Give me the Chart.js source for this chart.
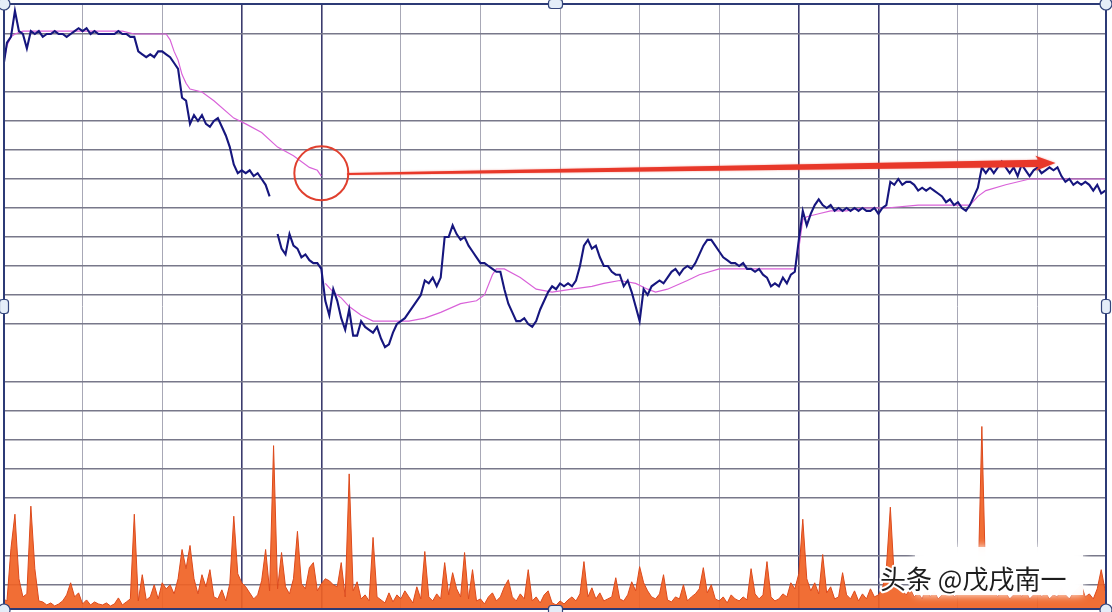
<!DOCTYPE html>
<html><head><meta charset="utf-8">
<script src="https://cdn.jsdelivr.net/npm/chart.js@4.4.1/dist/chart.umd.min.js"></script>
<style>html,body{margin:0;padding:0;background:#fff;overflow:hidden}#wrap{width:1112px;height:612px;position:relative}</style>
</head><body><div id="wrap"><canvas id="c" width="1112" height="612"></canvas></div>
<script>
// ---- data ----
// intraday price, one reading per minute slot (null = break in the line)
const price = [
10.48,10.57,10.59,10.68,10.61,10.60,10.55,10.61,10.60,10.61,
10.59,10.60,10.60,10.61,10.60,10.60,10.59,10.60,10.61,10.62,
10.61,10.62,10.60,10.61,10.60,10.60,10.60,10.60,10.60,10.61,
10.60,10.60,10.59,10.59,10.54,10.53,10.52,10.53,10.52,10.54,
10.54,10.53,10.52,10.50,10.48,10.38,10.37,10.29,10.32,10.30,
10.32,10.29,10.28,10.30,10.31,10.28,10.25,10.21,10.15,10.12,
10.13,10.12,10.13,10.11,10.12,10.10,10.08,10.04,null,9.91,
9.86,9.84,9.91,9.87,9.86,9.83,9.84,9.82,9.81,9.81,
9.79,9.68,9.63,9.72,9.68,9.62,9.58,9.65,9.56,9.56,
9.61,9.59,9.58,9.57,9.59,9.55,9.52,9.53,9.57,9.60,
9.61,9.62,9.64,9.66,9.68,9.70,9.75,9.74,9.76,9.73,
9.76,9.90,9.90,9.94,9.91,9.89,9.90,9.87,9.85,9.83,
9.81,9.81,9.80,9.79,9.78,9.78,9.72,9.67,9.64,9.61,
9.61,9.62,9.60,9.59,9.61,9.65,9.68,9.71,9.73,9.72,
9.74,9.73,9.74,9.73,9.75,9.80,9.87,9.89,9.86,9.87,
9.83,9.80,9.80,9.78,9.77,9.77,9.73,9.75,9.71,9.66,
9.61,9.72,9.70,9.73,9.74,9.75,9.74,9.76,9.78,9.79,
9.77,9.79,9.80,9.79,9.81,9.84,9.87,9.89,9.89,9.87,
9.85,9.83,9.82,9.81,9.81,9.80,9.81,9.79,9.79,9.78,
9.79,9.77,9.76,9.73,9.74,9.73,9.76,9.74,9.77,9.78,
9.89,9.99,9.94,9.98,10.01,10.03,10.01,10.00,10.01,9.99,
10.00,9.99,10.00,9.99,10.00,9.99,10.00,9.99,9.99,10.00,
9.98,10.00,10.01,10.09,10.08,10.10,10.08,10.09,10.09,10.08,
10.06,10.07,10.06,10.07,10.06,10.05,10.04,10.02,10.03,10.01,
10.02,10.00,9.99,10.01,10.04,10.07,10.14,10.12,10.14,10.12,
10.14,10.16,10.14,10.12,10.14,10.11,10.15,10.13,10.11,10.13,
10.14,10.12,10.13,10.14,10.13,10.14,10.11,10.09,10.10,10.08,
10.09,10.08,10.09,10.08,10.06,10.08,10.05,10.06
];
// average-price line (pink), read at selected minute slots
const avgMinutes = [0,1,2,3,5,10,15,20,25,30,33,38,41,42,43,44,45,46,47,50,53,58,61,65,69,73,77,79,80,
81,83,85,87,90,93,98,102,106,110,115,119,121,123,124,126,130,134,138,143,148,151,155,159,162,164,167,172,175,180,
190,199,200,201,202,205,208,212,216,222,230,240,243,245,247,252,258,265,277];
const avgValues = [10.49,10.56,10.59,10.60,10.61,10.61,10.61,10.61,10.61,10.61,10.60,10.60,10.60,10.58,10.54,
10.51,10.46,10.43,10.41,10.40,10.37,10.31,10.29,10.26,10.21,10.18,10.14,10.13,10.11,
9.74,9.71,9.69,9.66,9.63,9.61,9.61,9.61,9.62,9.64,9.67,9.68,9.70,9.77,9.79,
9.79,9.76,9.72,9.71,9.72,9.73,9.74,9.75,9.74,9.72,9.71,9.72,9.75,9.77,9.79,
9.79,9.79,9.86,9.96,9.97,9.98,9.99,9.99,10.00,10.00,10.01,10.01,10.01,10.04,10.06,10.08,10.10,10.10,10.10];
const avgBreakAfterMinute = 80;
// volume (hundreds of lots), one reading per minute slot
const volume = [
10,8,60,94,30,12,15,102,40,8,
7,4,6,3,5,8,14,26,12,16,
5,9,4,7,5,4,6,3,5,11,
4,7,10,94,8,34,9,12,24,10,
26,20,24,15,30,59,40,63,30,15,
34,22,39,12,10,19,8,25,92,35,
26,22,16,10,14,28,59,18,162,20,
56,22,15,30,77,25,20,41,46,18,
25,30,28,24,22,46,12,134,18,27,
10,14,8,71,12,9,6,16,7,14,
10,18,12,6,22,10,57,12,8,15,
10,46,14,36,20,12,56,10,39,8,
10,5,12,16,8,12,22,29,12,8,
15,10,39,8,12,6,14,18,6,4,
8,5,9,12,8,15,47,12,21,10,
16,8,10,12,31,10,8,14,27,18,
42,26,18,12,10,15,34,9,7,12,
10,24,8,12,15,20,41,16,24,10,
8,12,6,14,10,8,12,9,40,15,
10,14,47,12,8,10,15,12,26,20,
35,89,30,18,26,15,54,16,22,10,
12,36,14,10,18,8,15,10,20,12,
14,20,40,101,30,25,18,14,20,12,
16,10,22,12,18,10,14,20,26,12,
15,20,14,18,24,16,181,20,14,18,
12,20,16,10,14,22,12,18,10,14,
20,12,16,10,14,12,22,14,10,16,
20,24,12,15,10,20,39,18
];
// grid levels
const priceGridLevels = [10.60,10.40,10.30,10.20,10.10,10.00,9.90,9.80,9.70,9.60,9.40,9.30,9.20,9.10,9.00,8.80,8.70];
const timeGridMarks = [20,40,60,80,100,120,140,160,180,200,220,240,260];
const darkTimeMarks = [60,80,200,220];
// annotations
const highlight = {minute: 80, price: 10.12};
const arrowFrom = {minute: 86.5, price: 10.117};
const arrowTo = {minute: 264.5, price: 10.155};
const watermark = '头条 @戊戌南一';

// ---- scale ranges (0.10 per grid step) ----
const priceMin = 8.6172, priceMax = 10.7034;
const minuteMax = 277.2;
const volumeMax = 600;

const minutes = price.map((_, i) => i);
const avgData = avgMinutes.map((m, i) => ({x: m, y: avgValues[i]}));

const decor = {
  id: 'decor',
  beforeDraw(chart) {
    const {ctx, width, height} = chart;
    ctx.save(); ctx.fillStyle = '#ffffff'; ctx.fillRect(0, 0, width, height); ctx.restore();
  },
  afterDraw(chart) {
    const {ctx, chartArea: a, scales: {x, y}} = chart;
    ctx.save();
    // frame
    ctx.strokeStyle = '#2c3a76'; ctx.lineWidth = 2;
    ctx.strokeRect(a.left + 1, a.top, a.right - a.left - 1, a.bottom - a.top);
    // highlight circle
    const cx = x.getPixelForValue(highlight.minute), cy = y.getPixelForValue(highlight.price);
    ctx.strokeStyle = '#e0402f'; ctx.lineWidth = 2;
    ctx.beginPath(); ctx.arc(cx, cy, 27, 0, Math.PI * 2); ctx.stroke();
    // arrow
    const x0 = x.getPixelForValue(arrowFrom.minute), y0 = y.getPixelForValue(arrowFrom.price);
    const x1 = x.getPixelForValue(arrowTo.minute), y1 = y.getPixelForValue(arrowTo.price);
    const ang = Math.atan2(y1 - y0, x1 - x0), len = Math.hypot(x1 - x0, y1 - y0);
    ctx.save();
    ctx.translate(x0, y0); ctx.rotate(ang);
    ctx.fillStyle = '#e8382a'; ctx.shadowColor = 'rgba(232,56,42,0.5)'; ctx.shadowBlur = 2;
    ctx.beginPath();
    ctx.moveTo(0, -1); ctx.lineTo(len - 17, -3.6); ctx.lineTo(len - 20, -7.5); ctx.lineTo(len, 0);
    ctx.lineTo(len - 20, 7.5); ctx.lineTo(len - 17, 3.6); ctx.lineTo(0, 1); ctx.closePath(); ctx.fill();
    ctx.restore();
    // watermark
    ctx.save();
    ctx.fillStyle = 'rgba(255,255,255,0.93)'; ctx.shadowColor = '#ffffff'; ctx.shadowBlur = 8;
    ctx.fillRect(915, 547, 168, 48);
    ctx.restore();
    ctx.save();
    ctx.font = '26px "Noto Sans CJK SC"'; ctx.textBaseline = 'middle';
    ctx.lineJoin = 'round'; ctx.strokeStyle = '#ffffff'; ctx.lineWidth = 4;
    ctx.strokeText(watermark, 880, 579);
    ctx.fillStyle = '#1d1d1d'; ctx.fillText(watermark, 880, 579);
    ctx.restore();
    // selection handles
    const midX = (a.left + a.right) / 2 + 1, midY = (a.top + a.bottom) / 2;
    const L = a.left + 1, R = a.right, T = a.top, B = a.bottom + 1;
    ctx.fillStyle = '#e4edf8'; ctx.strokeStyle = '#34467c'; ctx.lineWidth = 1.2;
    [[L, T], [R, T], [L, B], [R, B]].forEach(([hx, hy]) => {
      ctx.beginPath(); ctx.arc(hx, hy, 6, 0, Math.PI * 2); ctx.fill(); ctx.stroke();
    });
    const rr = (rx, ry, w, h) => { ctx.beginPath(); ctx.roundRect(rx - w / 2, ry - h / 2, w, h, 3); ctx.fill(); ctx.stroke(); };
    rr(midX, T, 14, 9); rr(midX, B, 14, 9); rr(L, midY, 9, 14); rr(R, midY, 9, 14);
    ctx.restore();
  }
};

new Chart(document.getElementById('c'), {
  type: 'line',
  data: {
    labels: minutes,
    datasets: [
      { label: 'price', data: price, yAxisID: 'y', borderColor: '#16167e', borderWidth: 2.1,
        pointRadius: 0, tension: 0, spanGaps: false, order: 0 },
      { label: 'avg', data: avgData, yAxisID: 'y', borderColor: '#d962d9', borderWidth: 1.2,
        pointRadius: 0, tension: 0, spanGaps: true, order: 1,
        segment: { borderColor: c => (c.p0.parsed.x === avgBreakAfterMinute ? 'rgba(0,0,0,0)' : '#d962d9') } },
      { label: 'volume', data: volume, yAxisID: 'yVol', borderColor: '#dd4a1c', borderWidth: 1,
        backgroundColor: 'rgba(240,98,36,0.92)', fill: 'origin', pointRadius: 0, tension: 0, order: 2 }
    ]
  },
  options: {
    responsive: false, animation: false, devicePixelRatio: 1,
    layout: { padding: { left: 3, top: 4, right: 6, bottom: 3 } },
    plugins: { legend: { display: false }, tooltip: { enabled: false } },
    scales: {
      x: { type: 'linear', min: 0, max: minuteMax,
        ticks: { display: false }, border: { display: false },
        grid: { drawTicks: false,
          color: c => darkTimeMarks.includes(c.tick.value) ? '#3b3b6e' : '#a8a8b6',
          lineWidth: c => darkTimeMarks.includes(c.tick.value) ? 1.6 : 1 },
        afterBuildTicks: s => { s.ticks = timeGridMarks.map(v => ({ value: v })); } },
      y: { type: 'linear', position: 'left', min: priceMin, max: priceMax,
        ticks: { display: false }, border: { display: false },
        grid: { drawTicks: false, color: '#78788a', lineWidth: 1.4 },
        afterBuildTicks: s => { s.ticks = priceGridLevels.map(v => ({ value: v })); } },
      yVol: { type: 'linear', display: false, min: 0, max: volumeMax }
    }
  },
  plugins: [decor]
});
</script>
</body></html>
